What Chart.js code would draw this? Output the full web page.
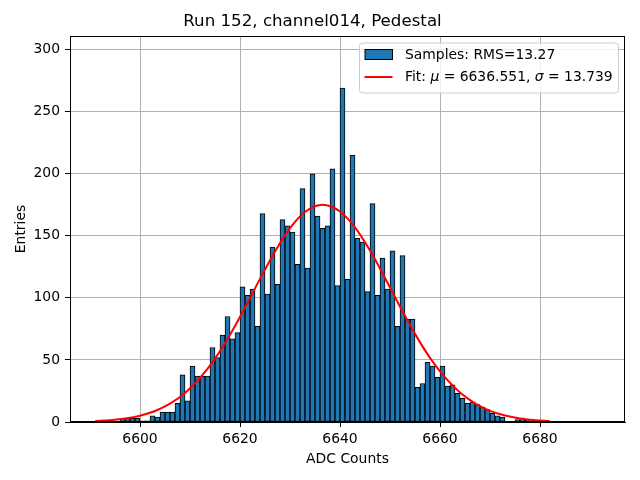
<!DOCTYPE html>
<html>
<head>
<meta charset="utf-8">
<script src="https://cdn.jsdelivr.net/npm/chart.js@4/dist/chart.umd.min.js"></script>
<style>
  html, body { margin: 0; padding: 0; background: #ffffff; }
  #wrap { width: 640px; height: 480px; }
</style>
</head>
<body>
<div id="wrap"><canvas id="c" width="640" height="480"></canvas></div>
<script>
// ---- data ----
const chartTitle = 'Run 152, channel014, Pedestal';
const xLabel = 'ADC Counts';
const yLabel = 'Entries';
const firstBin = 6591;           // left edge of first histogram bin (bin width = 1 ADC count)
const counts = [
  0, 0, 0, 0, 0, 2, 3, 3, 3,                       // 6591-6599
  1, 1, 5, 4, 8, 8, 8, 15, 38, 17,                 // 6600-6609
  45, 37, 37, 37, 60, 52, 70, 85, 67, 72,          // 6610-6619
  109, 102, 107, 77, 168, 103, 141, 111, 163, 158, // 6620-6629
  153, 127, 188, 124, 200, 166, 156, 158, 204, 110,// 6630-6639
  269, 115, 215, 148, 145, 105, 176, 102, 132, 107,// 6640-6649
  138, 77, 134, 83, 83, 28, 31, 48, 45, 36,        // 6650-6659
  45, 29, 30, 23, 19, 15, 16, 14, 12, 10,          // 6660-6669
  7, 5, 4, 0, 0, 2, 2, 2, 1, 1                     // 6670-6679
];
const fitX = [6591, 6594, 6597, 6600, 6603, 6606, 6609, 6612, 6615, 6618, 6621, 6624, 6627, 6630, 6633, 6636.5,
              6640, 6643, 6646, 6649, 6652, 6655, 6658, 6661, 6664, 6667, 6670, 6673, 6676, 6679, 6682];
const fitY = [0.7, 1.5, 2.8, 5.1, 8.9, 14.8, 23.4, 35.5, 51.1, 70.3, 92.2, 115.3, 137.4, 156.2, 169.2, 175,
              169.6, 156.8, 138.1, 116.1, 93.0, 71.0, 51.7, 35.9, 23.8, 15.0, 9.0, 5.2, 2.8, 1.5, 0.7];
const xTicks = [6600, 6620, 6640, 6660, 6680];
const yTicks = [0, 50, 100, 150, 200, 250, 300];
const xRange = [6586, 6697];
const yRange = [0, 311];
const legendSamples = 'Samples: RMS=13.27';
const legendFitParts = [['Fit: ', false], ['\u03bc', true], [' = 6636.551, ', false], ['\u03c3', true], [' = 13.739', false]];

// ---- build datasets ----
const histData = counts.map((v, i) => ({ x: firstBin + i + 0.5, y: v }));
const fitData = fitX.map((x, i) => ({ x: x, y: fitY[i] }));

const FONT = 'DejaVu Sans';
Chart.defaults.font.family = FONT;
Chart.defaults.color = '#000000';

const framePlugin = {
  id: 'frameAndLegend',
  afterDraw(chart) {
    const ctx = chart.ctx;
    const a = chart.chartArea;
    ctx.save();
    // axes frame (spines)
    ctx.strokeStyle = '#000000';
    ctx.lineWidth = 1;
    ctx.strokeRect(Math.round(a.left) + 0.5, Math.round(a.top) + 0.5,
                   Math.round(a.right - a.left) - 1, Math.round(a.bottom - a.top) - 1);

    // legend box
    const bw = 259, bh = 50;
    const bx = a.right - 7 - bw, by = a.top + 6.5;
    ctx.beginPath();
    ctx.roundRect(bx + 0.5, by + 0.5, bw, bh, 3);
    ctx.fillStyle = 'rgba(255,255,255,0.8)';
    ctx.fill();
    ctx.strokeStyle = '#cccccc';
    ctx.lineWidth = 1;
    ctx.stroke();

    // histogram handle
    ctx.fillStyle = '#1f77b4';
    ctx.fillRect(bx + 6, by + 7, 27.5, 10);
    ctx.strokeStyle = '#000000';
    ctx.lineWidth = 1;
    ctx.strokeRect(bx + 6, by + 7, 27.5, 10);

    ctx.font = '13.9px "' + FONT + '"';
    ctx.textBaseline = 'middle';
    ctx.fillStyle = '#000000';
    ctx.fillText(legendSamples, bx + 46, by + 12.5);

    // fit handle
    ctx.strokeStyle = '#ff0000';
    ctx.lineWidth = 2;
    ctx.beginPath();
    ctx.moveTo(bx + 5.5, by + 34.5);
    ctx.lineTo(bx + 33.5, by + 34.5);
    ctx.stroke();

    let tx = bx + 46;
    legendFitParts.forEach(([t, ital]) => {
      ctx.font = (ital ? 'italic ' : '') + '13.9px "' + FONT + '"';
      ctx.fillText(t, tx, by + 34.5);
      tx += ctx.measureText(t).width;
    });
    ctx.restore();
  }
};

new Chart(document.getElementById('c'), {
  type: 'bar',
  data: {
    datasets: [
      {
        type: 'line',
        label: 'Fit',
        data: fitData,
        borderColor: '#ff0000',
        borderWidth: 2,
        pointRadius: 0,
        cubicInterpolationMode: 'monotone',
        fill: false,
        order: 0
      },
      {
        type: 'bar',
        label: 'Samples',
        data: histData,
        backgroundColor: '#1f77b4',
        borderColor: '#000000',
        borderWidth: 1,
        borderSkipped: false,
        barPercentage: 1.0,
        categoryPercentage: 1.0,
        order: 1
      }
    ]
  },
  options: {
    responsive: false,
    animation: false,
    devicePixelRatio: 1,
    layout: { padding: { left: 0, right: 15, top: 0, bottom: 0 } },
    plugins: {
      legend: { display: false },
      tooltip: { enabled: false },
      title: {
        display: true,
        text: chartTitle,
        color: '#000000',
        font: { family: FONT, size: 16.67, weight: 'normal' },
        padding: { top: 12, bottom: 4 }
      }
    },
    scales: {
      x: {
        type: 'linear',
        offset: false,
        min: xRange[0],
        max: xRange[1],
        afterBuildTicks: s => { s.ticks = xTicks.map(v => ({ value: v })); },
        afterFit: s => { s.height = 58; },
        grid: { offset: false, color: '#b0b0b0', lineWidth: 1, drawTicks: true, tickLength: 5, tickColor: '#000000' },
        border: { display: true, color: '#000000', width: 1 },
        ticks: { font: { size: 13.9 }, color: '#000000', padding: 4, maxRotation: 0, autoSkip: false,
                 callback: v => String(v) },
        title: { display: true, text: xLabel, color: '#000000', font: { size: 13.9 }, padding: { top: 0, bottom: 12.5 } }
      },
      y: {
        type: 'linear',
        min: yRange[0],
        max: yRange[1],
        afterBuildTicks: s => { s.ticks = yTicks.map(v => ({ value: v })); },
        afterFit: s => { s.width = 70; },
        grid: { offset: false, color: '#b0b0b0', lineWidth: 1, drawTicks: true, tickLength: 5, tickColor: '#000000' },
        border: { display: true, color: '#000000', width: 1 },
        ticks: { font: { size: 13.9 }, color: '#000000', padding: 5, autoSkip: false,
                 callback: v => String(v) },
        title: { display: true, text: yLabel, color: '#000000', font: { size: 13.9 }, padding: { top: 13.5, bottom: 0 } }
      }
    }
  },
  plugins: [framePlugin]
});
</script>
</body>
</html>
